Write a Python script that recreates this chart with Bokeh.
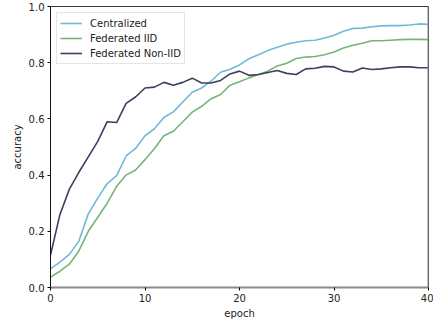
from bokeh.plotting import figure
from bokeh.models import Range1d, FixedTicker, PrintfTickFormatter, Span, Legend, LegendItem
from bokeh.embed import file_html
from bokeh.resources import INLINE

epochs = list(range(41))
centralized = [0.066, 0.09, 0.118, 0.165, 0.262, 0.318, 0.37, 0.398, 0.468, 0.495,
               0.54, 0.565, 0.605, 0.625, 0.66, 0.695, 0.71, 0.735, 0.766, 0.777,
               0.792, 0.814, 0.828, 0.843, 0.855, 0.866, 0.873, 0.878, 0.88, 0.888,
               0.898, 0.912, 0.922, 0.923, 0.928, 0.931, 0.932, 0.932, 0.934, 0.938, 0.937]
federated_iid = [0.037, 0.058, 0.083, 0.13, 0.2, 0.25, 0.3, 0.36, 0.4, 0.418,
                 0.455, 0.495, 0.54, 0.556, 0.59, 0.624, 0.645, 0.672, 0.687, 0.72,
                 0.732, 0.746, 0.758, 0.77, 0.788, 0.798, 0.815, 0.82, 0.822, 0.828,
                 0.838, 0.852, 0.862, 0.869, 0.878, 0.878, 0.88, 0.882, 0.883, 0.883, 0.882]
federated_noniid = [0.115, 0.26, 0.35, 0.41, 0.465, 0.52, 0.59, 0.587, 0.655, 0.678,
                    0.71, 0.713, 0.73, 0.72, 0.73, 0.745, 0.728, 0.728, 0.737, 0.76,
                    0.77, 0.755, 0.758, 0.765, 0.772, 0.762, 0.758, 0.778, 0.78, 0.787,
                    0.785, 0.77, 0.767, 0.781, 0.776, 0.778, 0.782, 0.785, 0.785, 0.782, 0.782]
series_names = ["Centralized", "Federated IID", "Federated Non-IID"]
colors = ["#72b9d8", "#74b67a", "#3c3f5e"]
x_ticks = [0, 10, 20, 30, 40]
y_ticks = [0.0, 0.2, 0.4, 0.6, 0.8, 1.0]

FONT = "DejaVu Sans"

p = figure(width=433, height=322, x_range=Range1d(0, 40), y_range=Range1d(0, 1),
           output_backend="svg", toolbar_location=None,
           min_border_left=50, min_border_right=5, min_border_top=6, min_border_bottom=35)
p.grid.visible = False
p.outline_line_color = "#3a3a3a"
p.outline_line_width = 1
p.background_fill_color = "white"
p.border_fill_color = "white"

renderers = []
for ys, c in zip([centralized, federated_iid, federated_noniid], colors):
    r = p.line(epochs, ys, line_color=c, line_width=1.6)
    renderers.append(r)

p.add_layout(Span(location=40, dimension="height", line_color="#8a8a8a", line_width=2))

for ax in (p.xaxis[0], p.yaxis[0]):
    ax.major_tick_in = 0
    ax.major_tick_out = 3
    ax.minor_tick_line_color = None
    ax.major_label_text_font = FONT
    ax.major_label_text_font_size = "10px"
    ax.major_label_text_color = "#222222"
    ax.axis_label_text_font = FONT
    ax.axis_label_text_font_size = "10px"
    ax.axis_label_text_font_style = "normal"
    ax.axis_label_text_color = "#222222"
    ax.major_label_standoff = 3
    ax.axis_label_standoff = 3

p.xaxis.ticker = FixedTicker(ticks=x_ticks)
p.yaxis.ticker = FixedTicker(ticks=y_ticks)
p.yaxis.formatter = PrintfTickFormatter(format="%.1f")
p.xaxis.axis_label = "epoch"
p.yaxis.axis_label = "accuracy"
p.xaxis.axis_line_color = "#8a8a8a"
p.xaxis.axis_line_width = 2
p.yaxis.axis_line_color = "#111111"
p.yaxis.axis_line_width = 1

legend = Legend(items=[LegendItem(label=n, renderers=[r]) for n, r in zip(series_names, renderers)],
                location="top_left")
legend.margin = 6
legend.padding = 3
legend.spacing = 1
legend.label_height = 14
legend.glyph_height = 14
legend.glyph_width = 22
legend.label_standoff = 8
legend.label_text_font = FONT
legend.label_text_font_size = "10px"
legend.label_text_color = "#222222"
legend.border_line_color = "#cccccc"
legend.border_line_width = 1
legend.background_fill_alpha = 0.85
p.add_layout(legend)

open("out.html", "w").write(file_html(p, INLINE))
